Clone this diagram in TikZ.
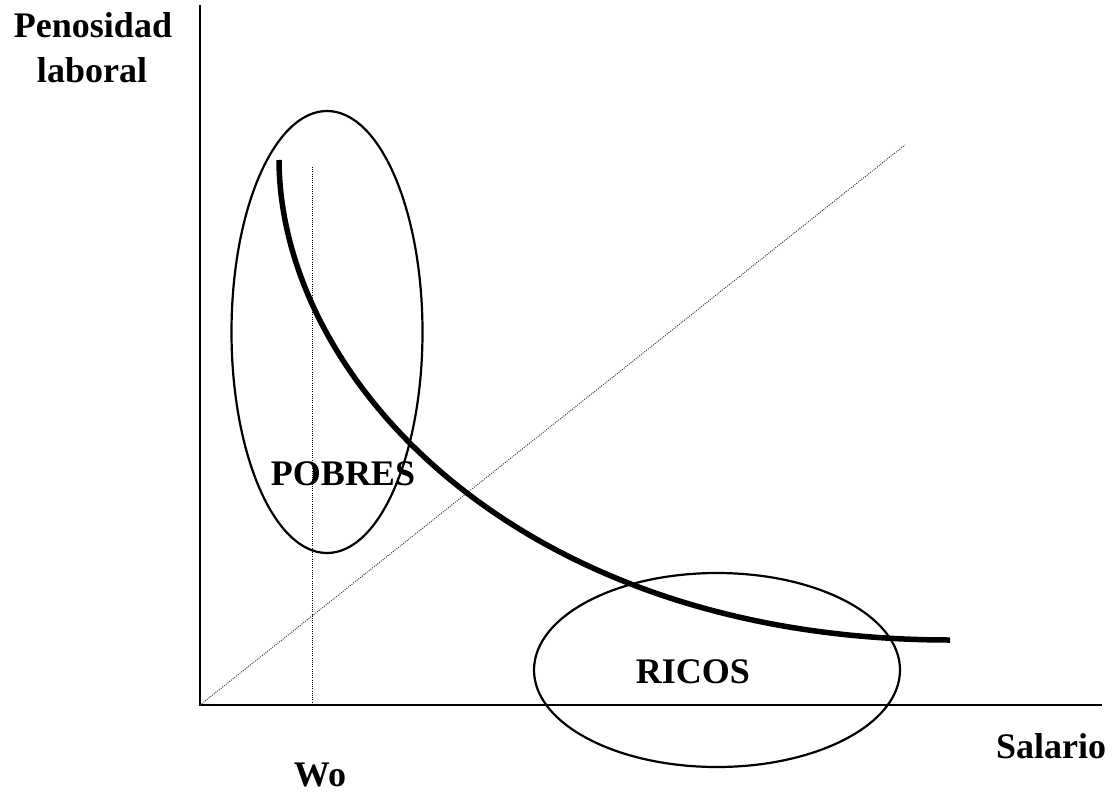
\documentclass[tikz,border=0pt]{standalone}
\usepackage{fontspec}
\setmainfont{Liberation Serif}
\begin{document}
\begin{tikzpicture}[x=1pt,y=-1pt,
  lbl/.style={font=\fontsize{36}{43}\selectfont\bfseries, inner sep=0pt, anchor=base},
  axis/.style={line width=2pt},
  ring/.style={line width=2.2pt},
  guide/.style={line width=1pt, dash pattern=on 1pt off 1.2pt},
  supply/.style={line width=5.5pt}]
\useasboundingbox (0,0) rectangle (1114,795);
\coordinate (O) at (200,705);
\coordinate (ytop) at (200,5);
\coordinate (xend) at (1102,705);
\coordinate (diagend) at (905,145);
\coordinate (wtop) at (312,167);
\coordinate (wbot) at (312,705);
\coordinate (cstart) at (279,160);
\coordinate (cend) at (950,640);
\draw[axis] (ytop) -- (O) -- (xend);
\draw[guide, black!75] (O) -- (diagend);
\draw[guide] (wtop) -- (wbot);
\draw[ring] (327,332) ellipse [x radius=95.5pt, y radius=221pt];
\draw[ring] (717,670) ellipse [x radius=183pt, y radius=97pt];
\draw[supply] (cstart) .. controls (280,380) and (520,640) .. (cend);
\node[lbl] (pen) at (93,37) {Penosidad};
\node[lbl] (lab) at (92,82) {laboral};
\node[lbl] (sal) at (1051,758) {Salario};
\node[lbl] (wo) at (320,786) {Wo};
\node[lbl] (pob) at (343,485) {POBRES};
\node[lbl] (ric) at (693,683) {RICOS};
\end{tikzpicture}
\end{document}
